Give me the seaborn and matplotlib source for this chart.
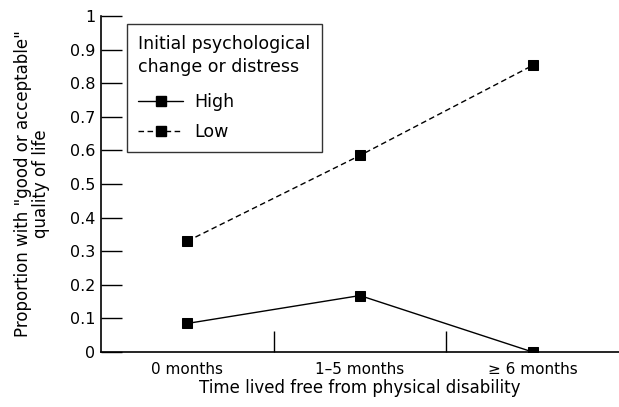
import pandas as pd
import seaborn as sns
import matplotlib.pyplot as plt
from matplotlib.lines import Line2D

# Datos
categorias = ['0 months', '1–5 months', '≥ 6 months']
alto = [0.085, 0.168, 0.0]
bajo = [0.330, 0.585, 0.853]
yticks = [0, 0.1, 0.2, 0.3, 0.4, 0.5, 0.6, 0.7, 0.8, 0.9, 1]
ytick_labels = ['0', '0.1', '0.2', '0.3', '0.4', '0.5', '0.6', '0.7', '0.8', '0.9', '1']

df = pd.DataFrame({
    'tiempo': list(range(3)) * 2,
    'proporcion': alto + bajo,
    'grupo': ['High'] * 3 + ['Low'] * 3,
})

sns.set_style('ticks')
plt.rcParams['font.family'] = ['DejaVu Sans']
plt.rcParams['text.color'] = 'black'
plt.rcParams['axes.labelcolor'] = 'black'
plt.rcParams['xtick.color'] = 'black'
plt.rcParams['ytick.color'] = 'black'

fig = plt.figure(figsize=(6.19, 4.07), dpi=100)
ax = fig.add_axes([101 / 619, 55 / 407, 518 / 619, 336 / 407])

sns.lineplot(data=df, x='tiempo', y='proporcion', style='grupo',
             dashes={'High': '', 'Low': (4, 2.5)}, markers={'High': 's', 'Low': 's'},
             color='black', linewidth=1.0, markersize=6.5, markeredgecolor='black',
             ax=ax, legend=False)

ax.set_xlim(-0.5, 2.5)
ax.set_ylim(0, 1)
ax.set_yticks(yticks)
ax.set_yticklabels(ytick_labels, fontsize=11.5)
ax.tick_params(axis='y', direction='in', length=15, width=1, pad=4)

# separadores de categoria como ticks
ax.set_xticks([0.5, 1.5])
ax.set_xticklabels(['', ''])
ax.tick_params(axis='x', direction='in', length=15, width=1)
for i, c in enumerate(categorias):
    ax.text(i, -0.03, c, ha='center', va='top', fontsize=11,
            transform=ax.get_xaxis_transform())

for s in ['top', 'right']:
    ax.spines[s].set_visible(False)
for s in ['left', 'bottom']:
    ax.spines[s].set_linewidth(1.2)
    ax.spines[s].set_color('black')

ax.set_xlabel('Time lived free from physical disability', fontsize=12, labelpad=16)
ax.set_ylabel('Proportion with "good or acceptable"\nquality of life', fontsize=12,
              labelpad=14, linespacing=1.0)

handles = [
    Line2D([], [], color='black', lw=1.0, marker='s', markersize=7, label='High'),
    Line2D([], [], color='black', lw=1.0, ls=(0, (4, 2.5)), marker='s', markersize=7, label='Low'),
]
leg = ax.legend(handles=handles, title='Initial psychological\nchange or distress',
                loc='upper left', bbox_to_anchor=(26 / 518, 0.976), borderaxespad=0,
                fontsize=12.5, title_fontsize=12.5, frameon=True, fancybox=False,
                edgecolor='black', handlelength=2.6, borderpad=0.65, labelspacing=0.7,
                handletextpad=0.6)
leg._legend_box.align = 'left'
leg._legend_box.sep = 12
leg.get_title().set_linespacing(1.35)
leg.get_frame().set_linewidth(1.0)

fig.savefig('out.png', dpi=100)
